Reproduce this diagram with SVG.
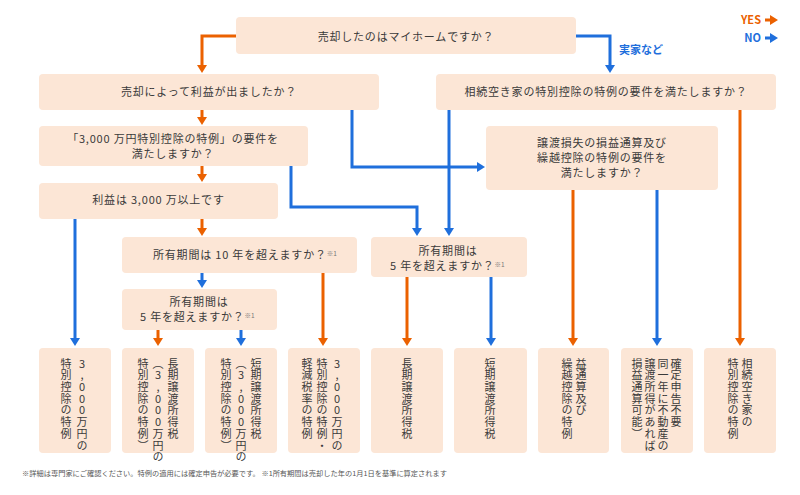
<svg xmlns="http://www.w3.org/2000/svg" width="800" height="495" viewBox="0 0 800 495">
<style>
.box{fill:#fce6d6;}
.t{font-family:"Noto Sans CJK JP","Noto Sans",sans-serif;font-size:11px;fill:#3a3a3a;letter-spacing:0.8px;}
.c{text-anchor:middle;}
.v{font-family:"Noto Sans CJK JP","Noto Sans",sans-serif;font-size:11px;fill:#3a3a3a;letter-spacing:0.7px;writing-mode:vertical-rl;text-orientation:upright;}
.sup{font-size:6.5px;letter-spacing:0;fill:#777;}
.o{fill:none;stroke:#eb6100;stroke-width:3;marker-end:url(#ao);}
.b{fill:none;stroke:#1f6fdc;stroke-width:3;marker-end:url(#ab);}
.lo{fill:#eb6100;}
.lb{fill:#1f6fdc;}
.leg{font-family:"Noto Sans CJK JP","Noto Sans",sans-serif;font-size:11px;font-weight:bold;}
.foot{font-family:"Noto Sans CJK JP","Noto Sans",sans-serif;font-size:6.5px;fill:#555;}
</style>
<defs>
<marker id="ao" viewBox="0 0 8 10" markerUnits="userSpaceOnUse" markerWidth="8" markerHeight="10" refX="2" refY="5" orient="auto"><path d="M0,0 L8,5 L0,10 z" fill="#eb6100"/></marker>
<marker id="ab" viewBox="0 0 8 10" markerUnits="userSpaceOnUse" markerWidth="8" markerHeight="10" refX="2" refY="5" orient="auto"><path d="M0,0 L8,5 L0,10 z" fill="#1f6fdc"/></marker>
</defs>
<rect width="800" height="495" fill="#ffffff"/>

<g id="legend">
<text class="leg lo" x="761" y="24" text-anchor="end">YES</text>
<path class="lo" d="M765,18.5 h5 v-3.5 l8,5 l-8,5 v-3.5 h-5 z"/>
<text class="leg lb" x="761" y="42" text-anchor="end">NO</text>
<path class="lb" d="M765,36.5 h5 v-3.5 l8,5 l-8,5 v-3.5 h-5 z"/>
</g>

<g id="connectors">
<path class="o" d="M236,36 H202 V67"/>
<path class="b" d="M576,36 H610 V67"/>
<text class="leg lb" x="619" y="54">実家など</text>
<path class="o" d="M202,110 V119"/>
<path class="o" d="M202,166 V176"/>
<path class="o" d="M202,219 V230"/>
<path class="b" d="M202,273 V282"/>
<path class="b" d="M75,219 V340"/>
<path class="o" d="M323,273 V340"/>
<path class="o" d="M158,330 V340"/>
<path class="b" d="M241,330 V340"/>
<path class="b" d="M352,110 V167 H479"/>
<path class="b" d="M291,166 V207 H417 V230"/>
<path class="b" d="M449,110 V230"/>
<path class="o" d="M407,277 V340"/>
<path class="b" d="M491,277 V340"/>
<path class="o" d="M573,190 V340"/>
<path class="b" d="M657,190 V340"/>
<path class="o" d="M740,110 V340"/>
</g>

<g id="q-myhome">
<rect class="box" x="236" y="17" width="340" height="37" rx="4"/>
<text class="t c" x="406" y="41">売却したのはマイホームですか？</text>
</g>
<g id="q-profit">
<rect class="box" x="39" y="74" width="340" height="36" rx="4"/>
<text class="t c" x="209" y="96">売却によって利益が出ましたか？</text>
</g>
<g id="q-akiya">
<rect class="box" x="436" y="74" width="340" height="36" rx="4"/>
<text class="t c" x="606" y="96">相続空き家の特別控除の特例の要件を満たしますか？</text>
</g>
<g id="q-3000req">
<rect class="box" x="39" y="126" width="269" height="40" rx="4"/>
<text class="t c" x="173" y="143">「3,000 万円特別控除の特例」の要件を</text>
<text class="t c" x="173" y="158">満たしますか？</text>
</g>
<g id="q-loss">
<rect class="box" x="486" y="126" width="232" height="64" rx="4"/>
<text class="t c" x="602" y="147">譲渡損失の損益通算及び</text>
<text class="t c" x="602" y="162">繰越控除の特例の要件を</text>
<text class="t c" x="602" y="177">満たしますか？</text>
</g>
<g id="q-over3000">
<rect class="box" x="39" y="183" width="239" height="36" rx="4"/>
<text class="t c" x="158.5" y="204">利益は 3,000 万以上です</text>
</g>
<g id="q-10y">
<rect class="box" x="122" y="237" width="235" height="36" rx="4"/>
<text class="t" x="153" y="259">所有期間は 10 年を超えますか？<tspan class="sup" dy="-3">※1</tspan></text>
</g>
<g id="q-5y-left">
<rect class="box" x="122" y="289" width="155" height="41" rx="4"/>
<text class="t c" x="199" y="306">所有期間は</text>
<text class="t" x="140" y="321">5 年を超えますか？<tspan class="sup" dy="-3">※1</tspan></text>
</g>
<g id="q-5y-right">
<rect class="box" x="371" y="237" width="156" height="40" rx="4"/>
<text class="t c" x="448" y="255">所有期間は</text>
<text class="t" x="390" y="270">5 年を超えますか？<tspan class="sup" dy="-3">※1</tspan></text>
</g>

<g id="r1">
<rect class="box" x="39" y="348" width="72" height="105" rx="4"/>
<text class="v" x="82" y="358">3,000万円の</text>
<text class="v" x="66" y="358">特別控除の特例</text>
</g>
<g id="r2">
<rect class="box" x="122" y="348" width="72" height="105" rx="4"/>
<text class="v" x="173" y="358">長期譲渡所得税</text>
<text class="v" x="158" y="358">（3,000万円の</text>
<text class="v" x="143" y="358">特別控除の特例）</text>
</g>
<g id="r3">
<rect class="box" x="205" y="348" width="72" height="105" rx="4"/>
<text class="v" x="256" y="358">短期譲渡所得税</text>
<text class="v" x="241" y="358">（3,000万円の</text>
<text class="v" x="226" y="358">特別控除の特例）</text>
</g>
<g id="r4">
<rect class="box" x="288" y="348" width="72" height="105" rx="4"/>
<text class="v" x="337" y="358">3,000万円の</text>
<text class="v" x="322" y="358">特別控除の特例・</text>
<text class="v" x="307" y="358">軽減税率の特例</text>
</g>
<g id="r5">
<rect class="box" x="371" y="348" width="72" height="105" rx="4"/>
<text class="v" x="407" y="358">長期譲渡所得税</text>
</g>
<g id="r6">
<rect class="box" x="454" y="348" width="73" height="105" rx="4"/>
<text class="v" x="490" y="358">短期譲渡所得税</text>
</g>
<g id="r7">
<rect class="box" x="538" y="348" width="71" height="105" rx="4"/>
<text class="v" x="581" y="358">益通算及び</text>
<text class="v" x="567" y="358">繰越控除の特例</text>
</g>
<g id="r8">
<rect class="box" x="621" y="348" width="72" height="105" rx="4"/>
<text class="v" x="676" y="358">確定申告不要</text>
<text class="v" x="663" y="358">同一年に不動産の</text>
<text class="v" x="650" y="358">譲渡所得があれば</text>
<text class="v" x="637" y="358">損益通算可能）</text>
</g>
<g id="r9">
<rect class="box" x="704" y="348" width="72" height="105" rx="4"/>
<text class="v" x="747" y="358">相続空き家の</text>
<text class="v" x="733" y="358">特別控除の特例</text>
</g>

<text class="foot" x="22" y="476" textLength="425" lengthAdjust="spacingAndGlyphs">※詳細は専門家にご確認ください。特例の適用には確定申告が必要です。 ※1所有期間は売却した年の1月1日を基準に算定されます</text>
</svg>
